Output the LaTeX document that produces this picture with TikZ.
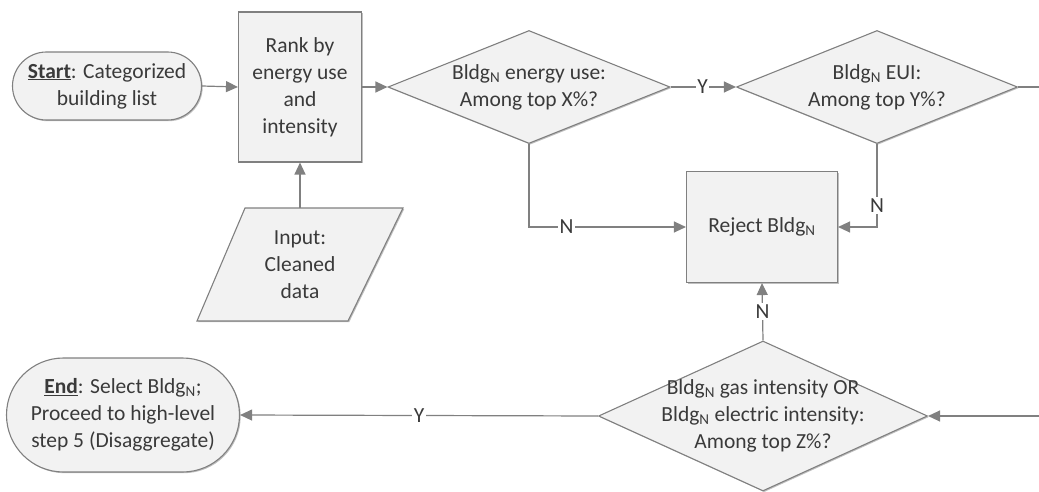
\documentclass[tikz,border=0pt]{standalone}
\usepackage{fontspec}
\setmainfont{Carlito}
\usetikzlibrary{shapes.geometric,arrows.meta,shadows}
\definecolor{linec}{HTML}{808080}
\definecolor{boxc}{HTML}{808080}
\definecolor{fillc}{HTML}{F2F2F2}
\definecolor{txtc}{HTML}{3A3A3A}
\begin{document}
\begin{tikzpicture}[x=1pt,y=-1pt,
  font=\fontsize{21.5}{27}\selectfont, text=txtc,
  line/.style={draw=linec, line width=1.2pt},
  arr/.style={line, -{Triangle[length=12pt,width=11pt]}},
  shad/.style={drop shadow={shadow xshift=1.2pt, shadow yshift=-1.2pt, opacity=0.25, fill=black}},
  box/.style={rectangle, draw=boxc, fill=fillc, line width=1.1pt, inner sep=0pt, align=center, shad},
  term/.style={box, rounded corners=#1},
  dia/.style={diamond, draw=boxc, fill=fillc, line width=1.1pt, inner sep=0pt, shad},
  txt/.style={align=center, inner sep=0pt},
  lab/.style={fill=white, inner sep=1.5pt}
]
\useasboundingbox (0,0) rectangle (1039,492);

\node[term=34pt, minimum width=189pt, minimum height=68pt] (start) at (107,86)
  {\underline{\textbf{Start}}: Categorized\\building list};
\node[box, minimum width=123pt, minimum height=150pt] (rank) at (300,87)
  {Rank by\\energy use\\and\\intensity};

\filldraw[draw=boxc, fill=fillc, line width=1.1pt, shad]
  (245,208) -- (403,208) -- (348,321) -- (197,321) -- cycle;
\node[txt, minimum width=100pt, minimum height=113pt] (inp) at (300,264.5)
  {Input:\\Cleaned\\data};

\node[dia, minimum width=282pt, minimum height=113pt] (d1) at (529,87) {};
\node[txt] (t1) at (d1) {Bldg\textsubscript{N} energy use:\\Among top X\%?};

\node[dia, minimum width=281pt, minimum height=113pt] (d2) at (877,87) {};
\node[txt] (t2) at (d2) {Bldg\textsubscript{N} EUI:\\Among top Y\%?};

\node[box, minimum width=151pt, minimum height=111pt] (rej) at (762,227)
  {Reject Bldg\textsubscript{N}};

\node[dia, minimum width=329pt, minimum height=150pt] (d3) at (763,416) {};
\node[txt] (t3) at (d3) {Bldg\textsubscript{N} gas intensity OR\\Bldg\textsubscript{N} electric intensity:\\Among top Z\%?};

\node[term=57pt, minimum width=233pt, minimum height=114pt] (end) at (123,415)
  {\underline{\textbf{End}}: Select Bldg\textsubscript{N};\\Proceed to high-level\\step 5 (Disaggregate)};

\coordinate (r1) at (1039,87);
\coordinate (r2) at (1039,416);

\draw[arr] (start.east) -- (rank.west);
\draw[arr] (inp.north) -- (rank.south);
\draw[arr] (rank.east) -- (d1.west);
\draw[arr] (d1.east) -- node[lab, pos=0.49] {Y} (d2.west);
\draw[line] (d2.east) -- (r1);
\draw[arr] (d1.south) |- node[lab, pos=0.62] {N} (rej.west);
\draw[arr] (d2.south) |- node[lab, pos=0.37] {N} (rej.east);
\draw[arr] (d3.north) -- node[lab, pos=0.5] {N} (rej.south);
\draw[arr] (r2) -- (d3.east);
\draw[arr] (d3.west) -- node[lab, pos=0.5] {Y} (end.east);
\end{tikzpicture}
\end{document}
